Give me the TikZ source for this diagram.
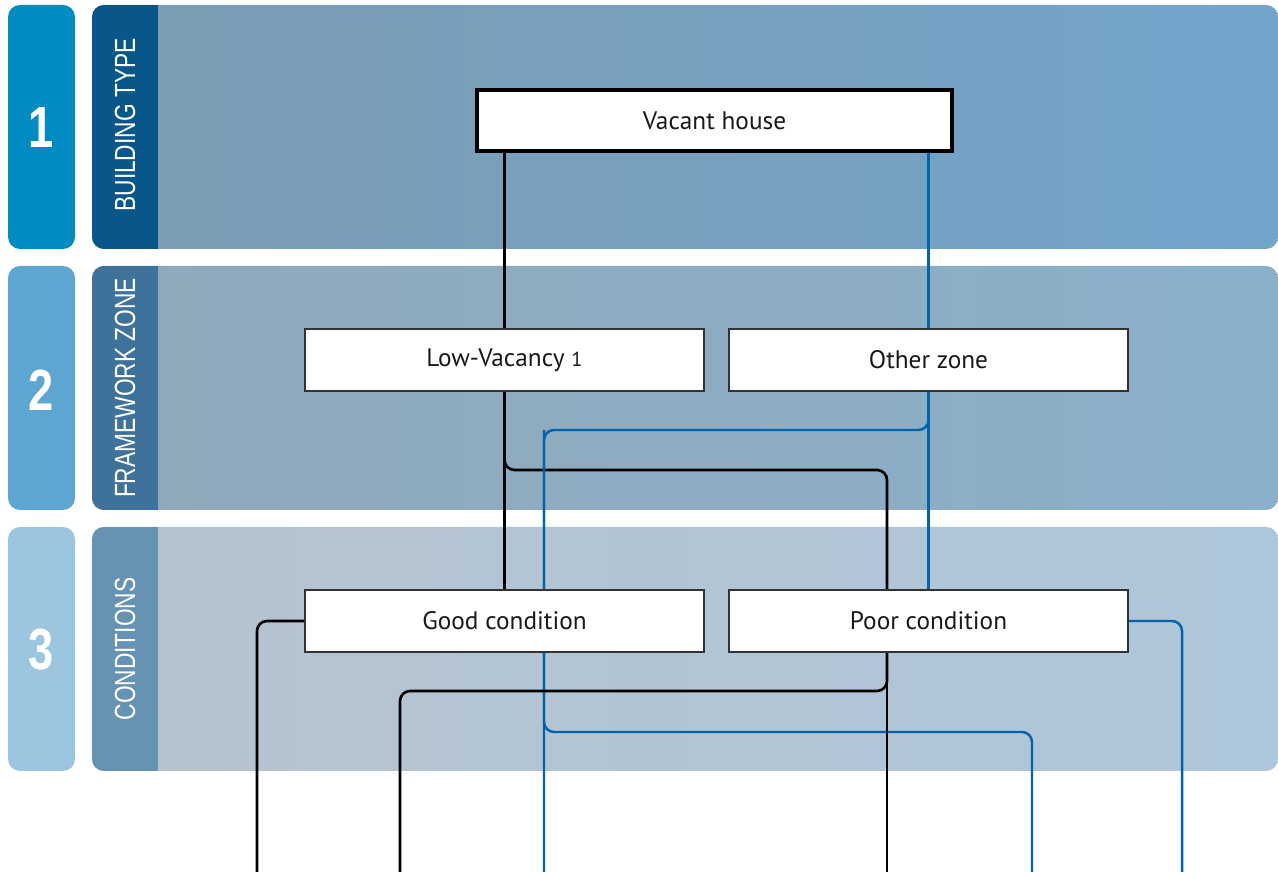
\documentclass[tikz,border=0pt]{standalone}
\usepackage{fontspec}
\setmainfont{PT Sans}
\newfontfamily\condfont[FakeStretch=0.78]{Liberation Sans}
\usepackage{tikz}

\definecolor{tabone}{RGB}{0,139,194}
\definecolor{tabtwo}{RGB}{92,166,209}
\definecolor{tabthree}{RGB}{156,198,224}
\definecolor{stripone}{RGB}{8,86,138}
\definecolor{striptwo}{RGB}{62,114,155}
\definecolor{stripthree}{RGB}{102,146,180}
\definecolor{linkblue}{RGB}{0,100,172}

\pgfdeclarelayer{bands}
\pgfdeclarelayer{links}
\pgfsetlayers{bands,links,main}

\begin{document}
\begin{tikzpicture}[x=0.1mm, y=-0.1mm,
	box/.style={draw=black!80, fill=white, line width=0.45pt, minimum width=39.9mm, minimum height=6.2mm, inner sep=0pt, text=black!90, font=\fontsize{7.2}{9}\selectfont},
	topbox/.style={box, draw=black, line width=0.9pt, minimum width=47.5mm, minimum height=6.1mm},
	blk/.style={line width=0.75pt, black, rounded corners=1mm},
	blu/.style={line width=0.7pt, linkblue, rounded corners=1mm},
	num/.style={white, font=\condfont\bfseries\fontsize{16.5}{16.5}\selectfont},
	stage/.style={white, rotate=90, font=\condfont\fontsize{8.3}{10}\selectfont}]

	\useasboundingbox (0,0) rectangle (1278,872);

	% bands and tabs
	\begin{pgfonlayer}{bands}
	\fill[tabone, rounded corners=1.2mm] (8,5) rectangle (75,249);
	\fill[tabtwo, rounded corners=1.2mm] (8,266) rectangle (75,510);
	\fill[tabthree, rounded corners=1.2mm] (8,527) rectangle (75,771);

	\begin{scope}
		\clip[rounded corners=1.2mm] (92,5) rectangle (1278,249);
		\shade[left color={rgb,255:red,124;green,156;blue,180}, right color={rgb,255:red,114;green,164;blue,202}] (92,5) rectangle (1278,249);
		\fill[stripone] (92,5) rectangle (158,249);
	\end{scope}
	\begin{scope}
		\clip[rounded corners=1.2mm] (92,266) rectangle (1278,510);
		\shade[left color={rgb,255:red,144;green,168;blue,186}, right color={rgb,255:red,138;green,176;blue,202}] (92,266) rectangle (1278,510);
		\fill[striptwo] (92,266) rectangle (158,510);
	\end{scope}
	\begin{scope}
		\clip[rounded corners=1.2mm] (92,527) rectangle (1278,771);
		\shade[left color={rgb,255:red,182;green,195;blue,206}, right color={rgb,255:red,174;green,198;blue,218}] (92,527) rectangle (1278,771);
		\fill[stripthree] (92,527) rectangle (158,771);
	\end{scope}
	\end{pgfonlayer}

	\node[num] (n1) at (41,128) {1};
	\node[num] (n2) at (41,390) {2};
	\node[num] (n3) at (41,650) {3};

	\node[stage] (s1) at (125,125) {BUILDING TYPE};
	\node[stage] (s2) at (125,388) {FRAMEWORK ZONE};
	\node[stage] (s3) at (125,649) {CONDITIONS};

	% decision boxes
	\node[topbox] (vacant) at (714.5,120.5) {Vacant house};
	\node[box] (low)   at (504.5,360) {Low-Vacancy {\fontsize{5.8}{7}\selectfont 1}};
	\node[box] (other) at (928.5,360) {Other zone};
	\node[box] (good)  at (504.5,621) {Good condition};
	\node[box] (poor)  at (928.5,621) {Poor condition};

	\coordinate (lvturn) at (887,470);
	\coordinate (ozturn) at (544,430);
	\coordinate (pcturn) at (400,691);
	\coordinate (buturn) at (1032,732);
	\coordinate (endA) at (257,872);
	\coordinate (endB) at (400,872);
	\coordinate (endC) at (544,872);
	\coordinate (endD) at (887,872);
	\coordinate (endE) at (1032,872);
	\coordinate (endF) at (1182,872);

	% connectors
	\begin{pgfonlayer}{links}
	\draw[blk] (vacant.south -| low.north) -- (low.north);
	\draw[blu] (vacant.south -| other.north) -- (other.north);
	\draw[blk] (low.south) -- (good.north);
	\draw[blu] (other.south) -- (poor.north);
	\draw[blk] (low.south) |- (lvturn) -- (lvturn |- poor.north);
	\draw[blu] (other.south) |- (ozturn) -- (endC);
	\draw[blu] (ozturn) -- (ozturn |- buturn) -| (endE);
	\draw[blk] (good.west) -| (endA);
	\draw[blk] (poor.south -| endD) -- (endD);
	\draw[blk] (poor.south -| endD) |- (pcturn) -- (endB);
	\draw[blu] (poor.east) -| (endF);
	\end{pgfonlayer}

\end{tikzpicture}
\end{document}
